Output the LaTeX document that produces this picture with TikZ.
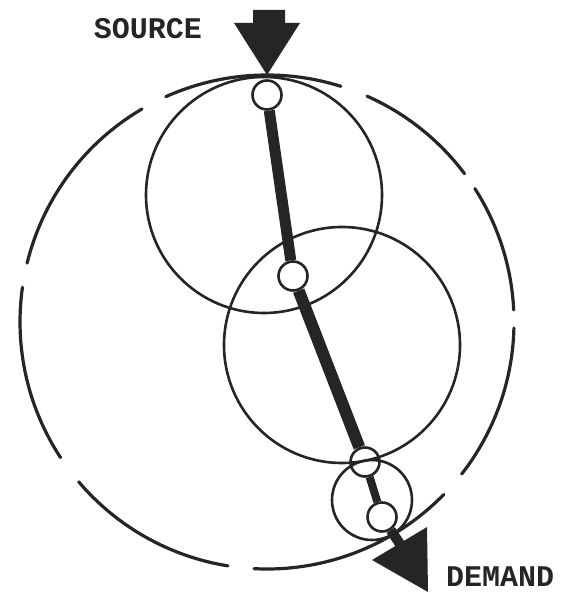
\documentclass[tikz,border=0pt]{standalone}
\usepackage{fontspec}
\setmainfont{Liberation Mono}
\definecolor{ink}{HTML}{252525}
\begin{document}
\begin{tikzpicture}[x=1pt,y=1pt,
  ring/.style={draw=ink, line width=2.6pt},
  bigring/.style={draw=ink, line width=3.2pt, line cap=round},
  joint/.style={circle, draw=ink, fill=white, line width=2.6pt, minimum size=29pt, inner sep=0pt},
  bar/.style={draw=ink, line width=11pt},
  lbl/.style={font=\fontsize{30}{30}\selectfont\bfseries, text=ink, inner sep=0pt}]
\useasboundingbox (0,0) rectangle (561,593);
% joints
\node[joint] (n1) at (267,498) {};
\node[joint] (n2) at (293,317) {};
\node[joint] (n3) at (365,131) {};
\node[joint] (n4) at (382,76) {};
% connectors
\draw[bar] (n1) -- (n2);
\draw[bar, line width=12pt] (n2) -- (n3);
\draw[bar, line width=8pt] (n3) -- (n4);
\coordinate (dbase) at (402,46);
\draw[bar, line width=10pt] (n4) -- (dbase);
% arrows
\fill[ink] (253,583) -- (285,583) -- (285,570) -- (300,570) -- (267,518) -- (234,570) -- (253,570) -- cycle;
\fill[ink] (372,33) -- (427,66) -- (428,1) -- cycle;
% big dashed circle
\foreach \a/\b in {72.6/114.2,120.4/166.2,171.9/213.3,220.3/260.9,267/315.7,322/358.6,362.8/392.7,396.9/426.1}
  \draw[bigring] (267,271) ++(\a:247) arc[start angle=\a, end angle=\b, radius=247];
% circles
\draw[ring] (264,398) circle[radius=118];
\draw[ring] (342,248) circle[radius=118];
\draw[ring] (372,93) circle[radius=40];
% labels
\node[lbl] (src) at (148,564) {SOURCE};
\node[lbl] (dem) at (500,16) {DEMAND};
\end{tikzpicture}
\end{document}
